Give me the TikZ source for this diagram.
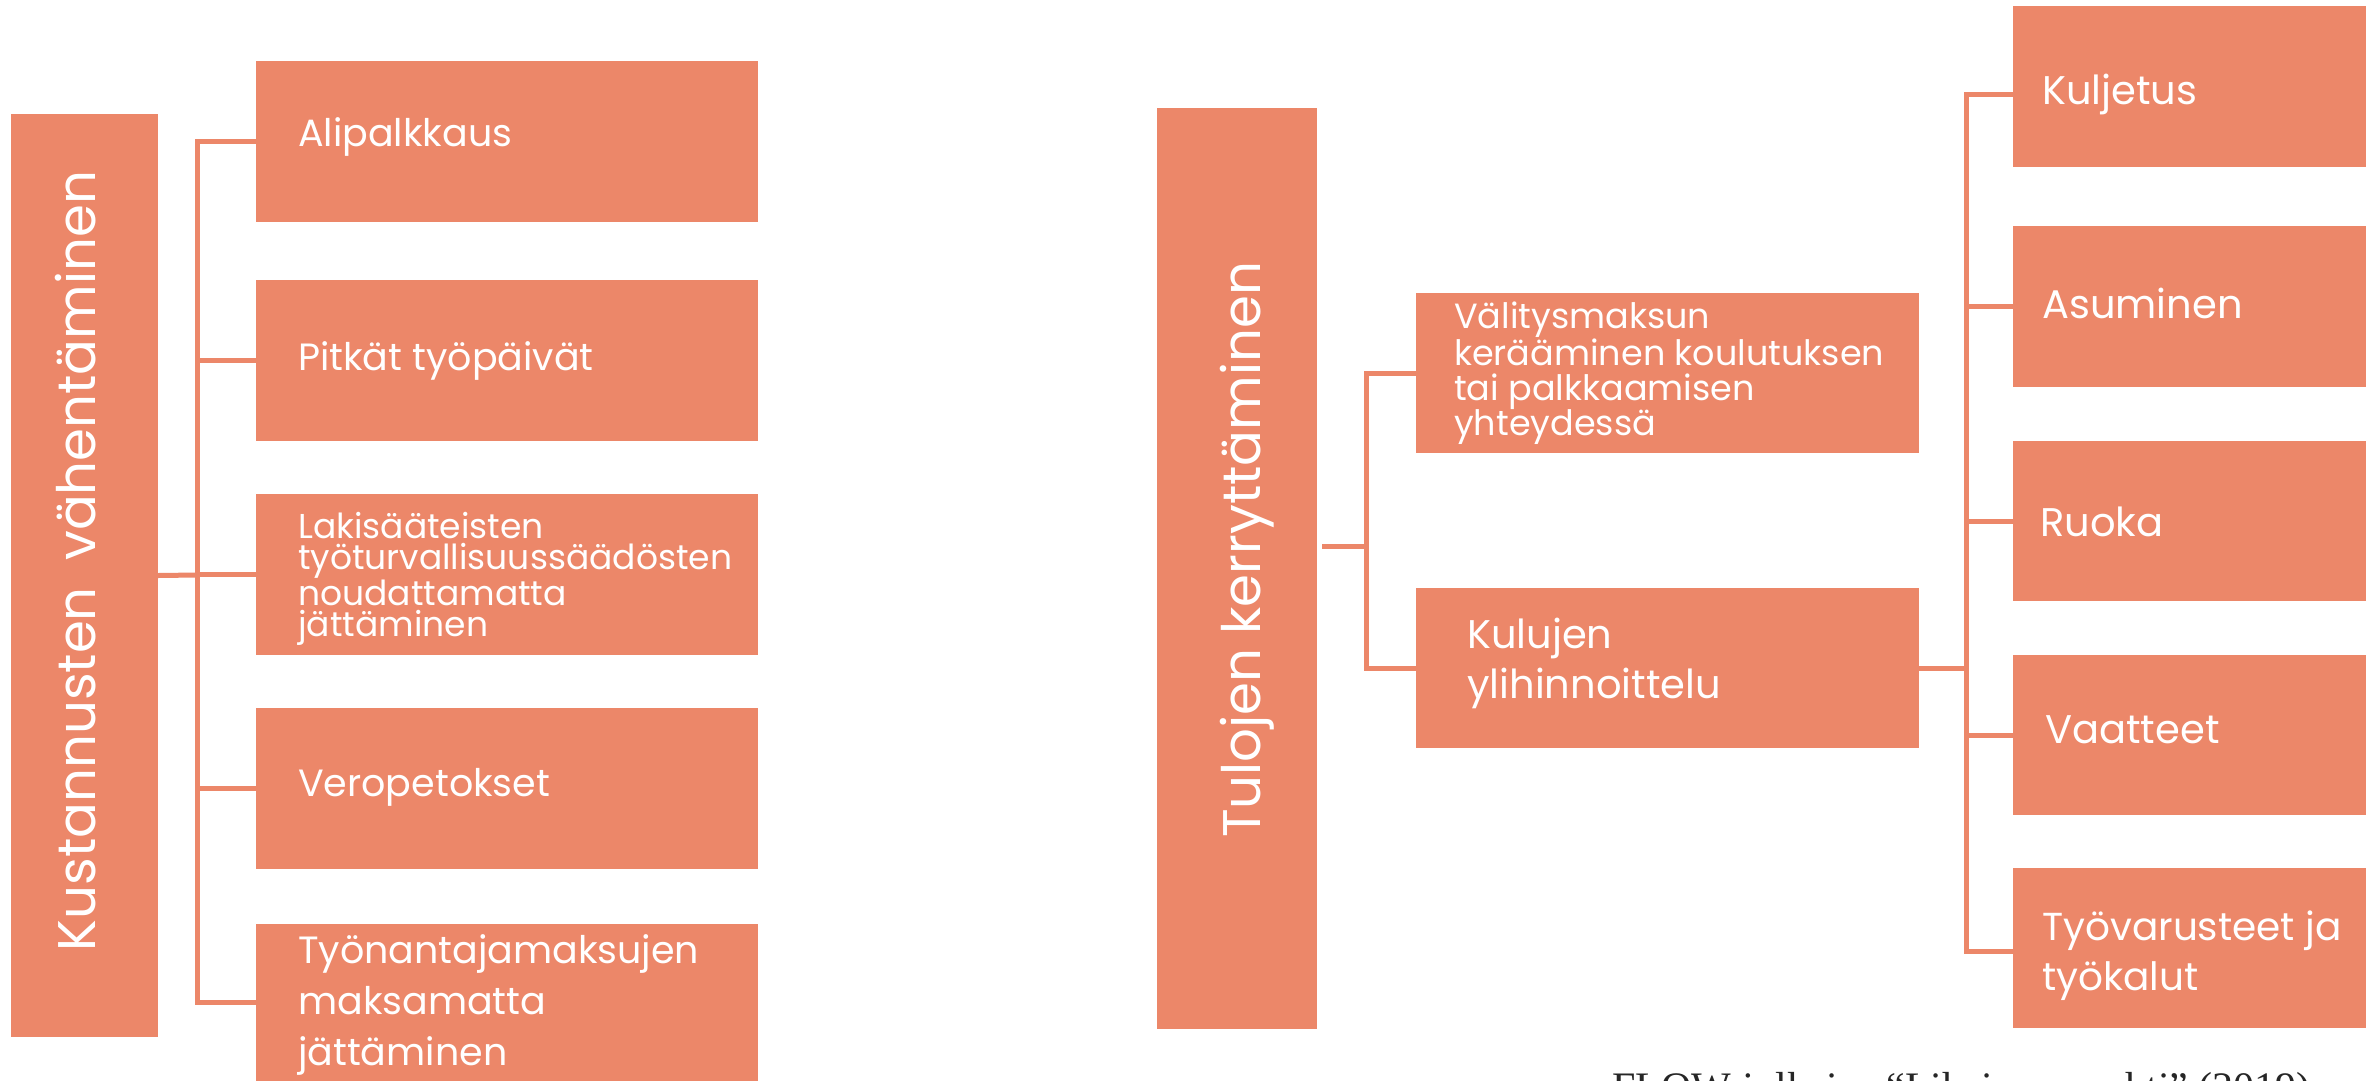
\documentclass[tikz,border=0pt]{standalone}
\usepackage{fontspec}
\setmainfont{Poppins}
\newfontfamily\capfont{Liberation Serif}
\definecolor{boxor}{RGB}{236,135,105}
\begin{document}
\begin{tikzpicture}[x=1pt,y=-1pt,
  bx/.style={fill=boxor, draw=none, inner sep=0pt, outer sep=0pt, anchor=north west},
  ln/.style={draw=boxor, line width=5pt},
  tx/.style={text=white, inner sep=0pt, anchor=base west, align=left},
  head/.style={text=white, inner sep=0pt, rotate=90, anchor=base, font=\fontsize{53}{60}\selectfont}]
\useasboundingbox (0,0) rectangle (2377,1080);
\fill[white] (0,0) rectangle (2377,1080);
\clip (0,0) rectangle (2377,1080);

% ---------- left group ----------
\node[bx, minimum width=147pt, minimum height=923pt] (kust) at (11,114) {};
\node[head] (tKust) at (95,561) {Kustannusten\hspace{0.5em}vähentäminen};

\node[bx, minimum width=502pt, minimum height=161pt] (ali) at (256,61) {};
\node[bx, minimum width=502pt, minimum height=161pt] (pit) at (256,280) {};
\node[bx, minimum width=502pt, minimum height=161pt] (lak) at (256,494) {};
\node[bx, minimum width=502pt, minimum height=161pt] (ver) at (256,708) {};
\node[bx, minimum width=502pt, minimum height=161pt] (tyo) at (256,924) {};

\node[tx, font=\fontsize{38}{50}\selectfont] (tAli) at (298,146) {Alipalkkaus};
\node[tx, font=\fontsize{38}{50}\selectfont] (tPit) at (298,370) {Pitkät työpäivät};
\node[tx, font=\fontsize{34.5}{31}\selectfont] (tLak) at (298,636) {Lakisääteisten\\työturvallisuussäädösten\\noudattamatta\\jättäminen};
\node[tx, font=\fontsize{38}{50}\selectfont] (tVer) at (298,796) {Veropetokset};
\node[tx, font=\fontsize{38}{51}\selectfont] (tTyo) at (298,1065) {Työnantajamaksujen\\maksamatta\\jättäminen};

\coordinate (hubL) at (197,575);
\draw[ln] (kust.east) -- (hubL);
\draw[ln] (ali.west) -| (hubL);
\draw[ln] (pit.west) -| (hubL);
\draw[ln] (lak.west) -| (hubL);
\draw[ln] (ver.west) -| (hubL);
\draw[ln] ([yshift=2pt]tyo.west) -| (hubL);

% ---------- right group ----------
\node[bx, minimum width=160pt, minimum height=921pt] (tul) at (1157,108) {};
\node[head] (tTul) at (1260,550) {Tulojen kerryttäminen};

\node[bx, minimum width=503pt, minimum height=160pt] (val) at (1416,293) {};
\node[bx, minimum width=503pt, minimum height=160pt] (kulu) at (1416,588) {};

\node[tx, font=\fontsize{35}{35}\selectfont] (tVal) at (1454,435) {Välitysmaksun\\kerääminen koulutuksen\\tai palkkaamisen\\yhteydessä};
\node[tx, font=\fontsize{40}{50}\selectfont] (tKulu) at (1467,698) {Kulujen\\ylihinnoittelu};

\coordinate (hubR1) at (1366,546);
\draw[ln] ([xshift=5pt]tul.east |- hubR1) -- (hubR1);
\draw[ln] (val.west) -| (hubR1);
\draw[ln] (kulu.west) -| (hubR1);

\node[bx, minimum width=353pt, minimum height=161pt] (kulj) at (2013,6) {};
\node[bx, minimum width=353pt, minimum height=161pt] (asu) at (2013,226) {};
\node[bx, minimum width=353pt, minimum height=160pt] (ruo) at (2013,441) {};
\node[bx, minimum width=353pt, minimum height=160pt] (vaa) at (2013,655) {};
\node[bx, minimum width=353pt, minimum height=160pt] (tva) at (2013,868) {};

\node[tx, font=\fontsize{40}{50}\selectfont] (tKulj) at (2042,104) {Kuljetus};
\node[tx, font=\fontsize{40}{50}\selectfont] (tAsu) at (2042,318) {Asuminen};
\node[tx, font=\fontsize{40}{50}\selectfont] (tRuo) at (2040,536) {Ruoka};
\node[tx, font=\fontsize{40}{50}\selectfont] (tVaa) at (2045,743) {Vaatteet};
\node[tx, font=\fontsize{39}{50}\selectfont] (tTva) at (2042,990) {Työvarusteet ja\\työkalut};

\coordinate (hubR2) at (1966,668);
\draw[ln] (kulu.east) -- (hubR2);
\draw[ln] ([yshift=-7.5pt]kulj.west) -| (hubR2);
\draw[ln] (asu.west) -| (hubR2);
\draw[ln] (ruo.west) -| (hubR2);
\draw[ln] (vaa.west) -| (hubR2);
\draw[ln] ([yshift=-3pt]tva.west) -| (hubR2);

% ---------- caption ----------
\node[inner sep=0pt, anchor=base west, text=black!85, font=\capfont\fontsize{42}{50}\selectfont] (cap) at (1612,1101) {FLOW-julkaisu “Lihaisa romahti” (2019)};
\end{tikzpicture}
\end{document}
